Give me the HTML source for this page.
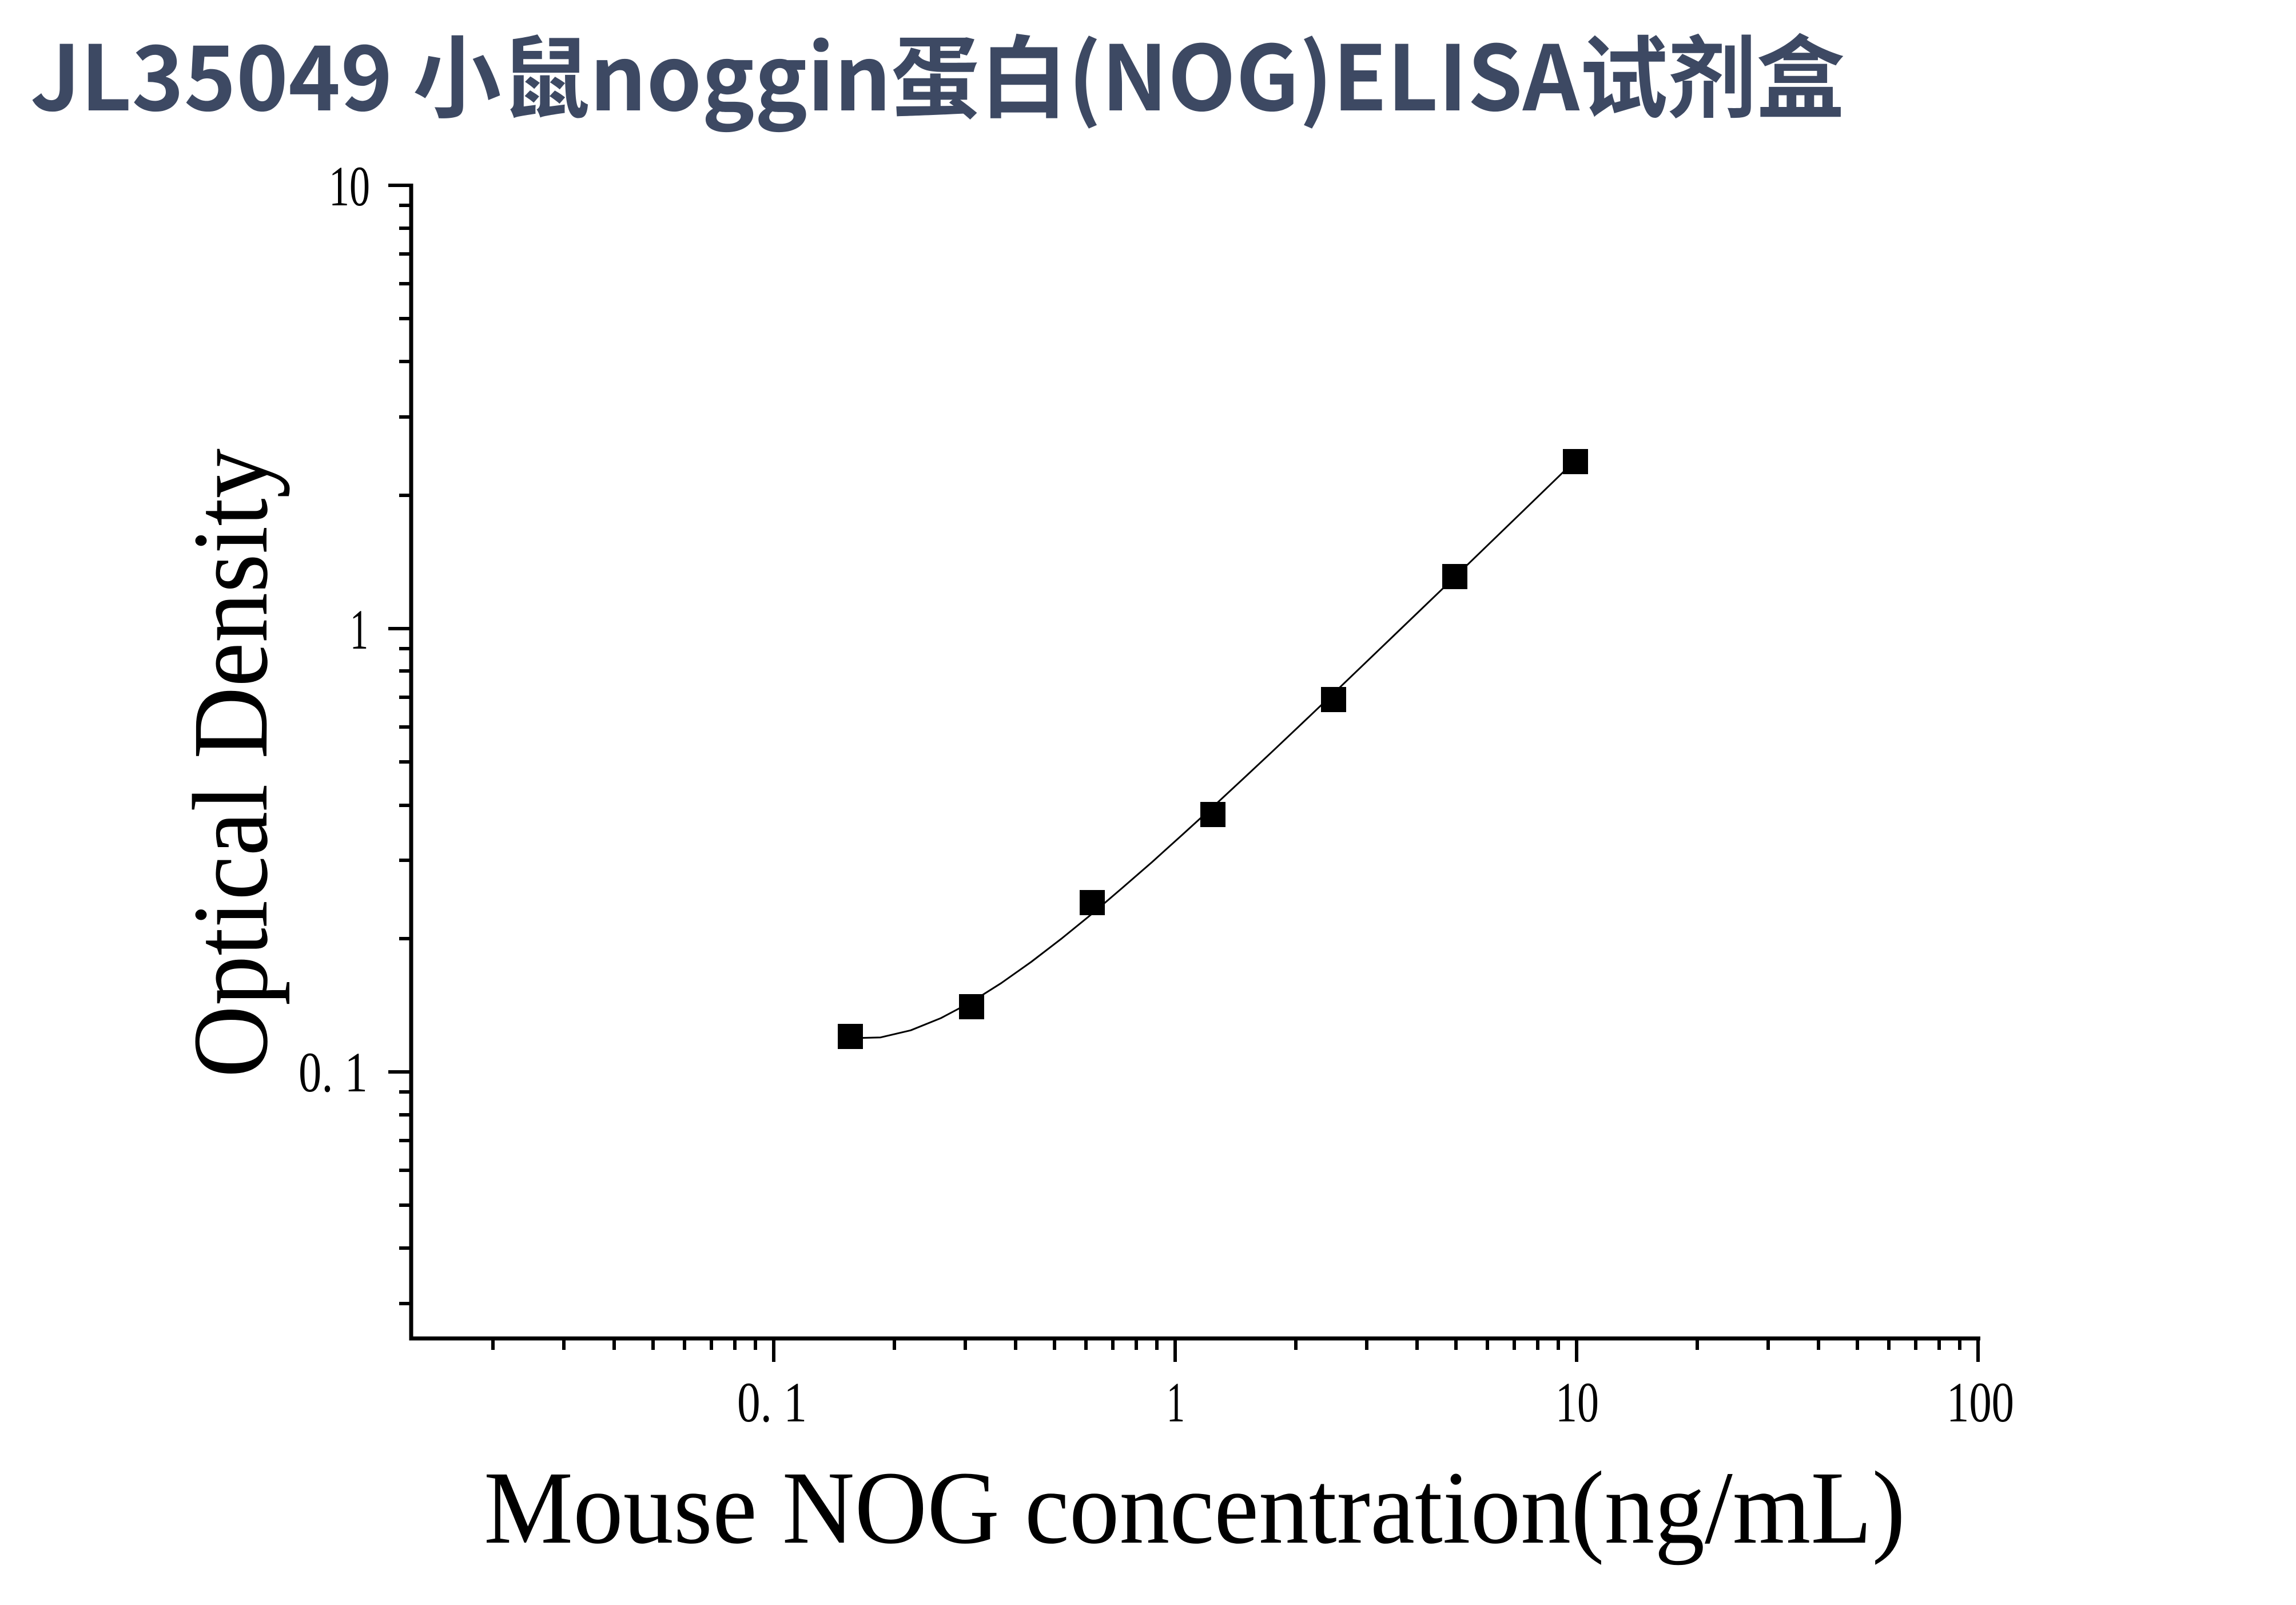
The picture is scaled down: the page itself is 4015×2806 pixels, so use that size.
<!DOCTYPE html>
<html><head><meta charset="utf-8"><style>html,body{margin:0;padding:0;background:#fff}svg{display:block}</style></head>
<body>
<svg width="4015" height="2806" viewBox="0 0 4015 2806" xmlns="http://www.w3.org/2000/svg">
<rect width="4015" height="2806" fill="#fff"/>
<text x="53" y="193" font-family="'Noto Sans CJK SC','Noto Sans CJK JP',sans-serif" font-weight="bold" font-size="157" fill="#3d4963" textLength="3173" lengthAdjust="spacingAndGlyphs">JL35049 小鼠noggin蛋白(NOG)ELISA试剂盒</text>
<g stroke="#000" fill="none">
<path d="M719 321 V2340 H3463" stroke-width="7"/>
<g stroke-width="6">
<path d="M679 324H719M679 1099H719M679 1874H719"/>
<path d="M698 866H719M698 729H719M698 632H719M698 557H719M698 496H719M698 444H719M698 399H719M698 359H719M698 1641H719M698 1504H719M698 1408H719M698 1332H719M698 1271H719M698 1219H719M698 1173H719M698 1134H719M698 2279H719M698 2182H719M698 2107H719M698 2046H719M698 1994H719M698 1949H719M698 1909H719"/>
<path d="M1353 2340V2381M2055 2340V2381M2757 2340V2381M3459 2340V2381"/>
<path d="M862 2340v20M986 2340v20M1074 2340v20M1142 2340v20M1197 2340v20M1244 2340v20M1285 2340v20M1321 2340v20M1564 2340v20M1688 2340v20M1776 2340v20M1844 2340v20M1899 2340v20M1946 2340v20M1987 2340v20M2023 2340v20M2266 2340v20M2390 2340v20M2478 2340v20M2546 2340v20M2601 2340v20M2648 2340v20M2689 2340v20M2725 2340v20M2968 2340v20M3092 2340v20M3180 2340v20M3248 2340v20M3303 2340v20M3350 2340v20M3391 2340v20M3427 2340v20"/>
</g>
<polyline stroke-width="3" stroke-linejoin="round" points="1487,1815 1539.75,1813.7 1592.5,1801.3 1645.25,1780 1698,1752.1 1750.75,1718.8 1803.5,1681.5 1856.25,1641 1909,1598.1 1961.75,1553 2014.5,1507.2 2067.25,1459.6 2120,1411.6 2172.75,1362.6 2225.5,1313.3 2278.25,1263.4 2331,1213.2 2436.5,1112 2542,1010.7 2647.5,908.7 2753,806.6"/>
</g>
<g fill="#000">
<rect x="1465" y="1790" width="44" height="44"/>
<rect x="1677" y="1738" width="44" height="44"/>
<rect x="1888" y="1556" width="44" height="44"/>
<rect x="2099" y="1402" width="44" height="44"/>
<rect x="2310" y="1201" width="44" height="44"/>
<rect x="2522" y="986" width="44" height="44"/>
<rect x="2733" y="785" width="44" height="44"/>
</g>
<g font-family="'Liberation Serif',serif" font-size="100" fill="#000">
<text x="575" y="359" textLength="72" lengthAdjust="spacingAndGlyphs">10</text>
<text x="612" y="1134" textLength="32" lengthAdjust="spacingAndGlyphs">1</text>
<text x="522" y="1908" textLength="121" lengthAdjust="spacingAndGlyphs">0. 1</text>
<text x="1289" y="2485" textLength="122" lengthAdjust="spacingAndGlyphs">0. 1</text>
<text x="2040" y="2485" textLength="32" lengthAdjust="spacingAndGlyphs">1</text>
<text x="2720" y="2485" textLength="76" lengthAdjust="spacingAndGlyphs">10</text>
<text x="3404" y="2485" textLength="118" lengthAdjust="spacingAndGlyphs">100</text>
</g>
<text x="846" y="2697" font-family="'Liberation Serif',serif" font-size="182" fill="#000" textLength="2486" lengthAdjust="spacingAndGlyphs">Mouse NOG concentration(ng/mL)</text>
<text transform="translate(466,1884) rotate(-90)" x="0" y="0" font-family="'Liberation Serif',serif" font-size="188" fill="#000" textLength="1100" lengthAdjust="spacingAndGlyphs">Optical Density</text>
</svg>
</body></html>
